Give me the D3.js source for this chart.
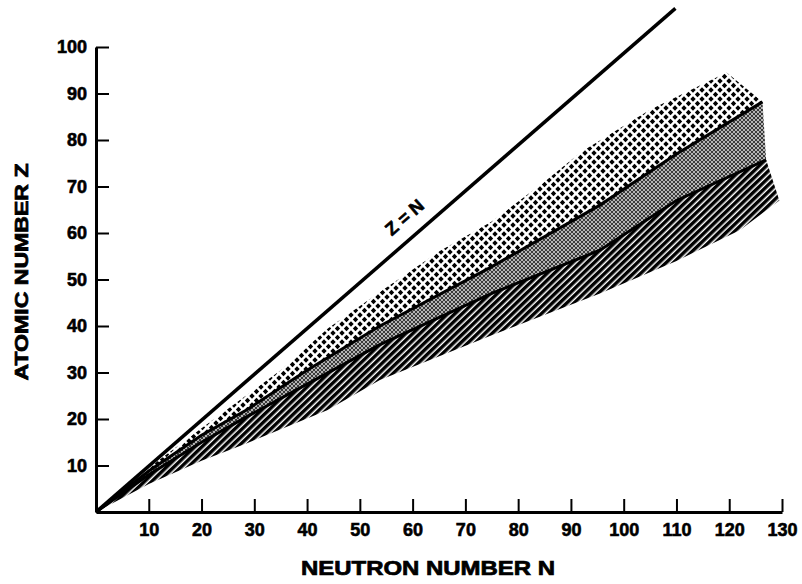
<!DOCTYPE html>
<html>
<head>
<meta charset="utf-8">
<script src="https://cdn.jsdelivr.net/npm/d3@7/dist/d3.min.js"></script>
<style>
  body { margin: 0; background: #fff; }
  svg { display: block; }
  text { font-family: "Liberation Sans", Arial, sans-serif; font-weight: bold; fill: #000; }
</style>
</head>
<body>
<div id="chart"></div>
<script>
// Tick values
const xTicks = [10, 20, 30, 40, 50, 60, 70, 80, 90, 100, 110, 120, 130];
const yTicks = [10, 20, 30, 40, 50, 60, 70, 80, 90, 100];

// Z = N reference line [N, Z], as drawn in the figure
const zEqualsN = [[0, 0], [109.8, 108.3]];

// top edge of the dotted band
const upperEdge = [[0, 0], [10, 9.5], [20, 18], [35, 30.5], [44, 39.5], [54, 47.5], [65, 56],
  [75, 62.5], [85, 71], [92, 77.5], [105, 86.5], [119.5, 94.5]];
// solid line between dotted and grey band
const upperLine = [[0, 0], [10, 8.8], [20, 16.5], [28.6, 22], [40, 30.5], [53.8, 40], [74.6, 52.5],
  [95.5, 66], [110, 77], [126.3, 88.2]];
// solid line between grey and hatched band
const lowerLine = [[0, 0], [10, 8], [20, 15], [28.6, 20.5], [40, 27.5], [53.8, 36], [75, 47],
  [95.5, 56.3], [110, 67], [127, 75.7]];
// bottom edge of the hatched band
const lowerEdge = [[0, 0], [10, 6], [20, 11], [28.6, 14.8], [43.8, 21.9], [53.8, 28.4], [75, 38],
  [95.5, 47], [110, 54], [122, 60.6], [129.5, 67]];

const W = 802, H = 584;

const svg = d3.select("#chart")
  .append("svg")
  .attr("width", W)
  .attr("height", H);

const x = d3.scaleLinear().domain([0, 130]).range([96, 782]);
const y = d3.scaleLinear().domain([0, 100]).range([512, 47]);

// patterns
const defs = svg.append("defs");

const dots = defs.append("pattern")
  .attr("id", "dots")
  .attr("patternUnits", "userSpaceOnUse")
  .attr("width", 9).attr("height", 9);
dots.append("rect").attr("width", 9).attr("height", 9).attr("fill", "#fff");
[[0, 0], [9, 0], [0, 9], [9, 9], [4.5, 4.5]].forEach(p => {
  dots.append("path")
    .attr("d", `M${p[0]},${p[1] - 2.7}L${p[0] + 2.7},${p[1]}L${p[0]},${p[1] + 2.7}L${p[0] - 2.7},${p[1]}Z`)
    .attr("fill", "#000");
});

const grey = defs.append("pattern")
  .attr("id", "grey")
  .attr("patternUnits", "userSpaceOnUse")
  .attr("width", 4).attr("height", 4);
grey.append("rect").attr("width", 4).attr("height", 4).attr("fill", "#b4b4b4");
grey.append("path").attr("d", "M0,0L4,4M4,0L0,4").attr("stroke", "#1a1a1a").attr("stroke-width", 0.8);

const hatch = defs.append("pattern")
  .attr("id", "hatch")
  .attr("patternUnits", "userSpaceOnUse")
  .attr("width", 10).attr("height", 5)
  .attr("patternTransform", "rotate(-44)");
hatch.append("rect").attr("width", 10).attr("height", 5).attr("fill", "#fff");
hatch.append("rect").attr("width", 10).attr("height", 3.5).attr("fill", "#000");

const line = d3.line().x(d => x(d[0])).y(d => y(d[1]));
const closed = d3.line().x(d => x(d[0])).y(d => y(d[1])).curve(d3.curveLinearClosed);

// bands
svg.append("path")
  .attr("d", closed(upperEdge.concat(upperLine.slice().reverse())))
  .attr("fill", "url(#dots)");
svg.append("path")
  .attr("d", closed(upperLine.concat(lowerLine.slice().reverse())))
  .attr("fill", "url(#grey)");
svg.append("path")
  .attr("d", closed(lowerLine.concat(lowerEdge.slice().reverse())))
  .attr("fill", "url(#hatch)");

// solid band lines
[upperLine, lowerLine].forEach(l => {
  svg.append("path")
    .attr("d", line(l))
    .attr("fill", "none")
    .attr("stroke", "#000")
    .attr("stroke-width", 3);
});

// Z = N line
svg.append("path")
  .attr("d", line(zEqualsN))
  .attr("fill", "none")
  .attr("stroke", "#000")
  .attr("stroke-width", 3.5);

const angle = Math.atan2(y(zEqualsN[1][1]) - y(0), x(zEqualsN[1][0]) - x(0)) * 180 / Math.PI;
svg.append("text")
  .attr("transform", `translate(${x(60) - 4},${y(60) - 11}) rotate(${angle})`)
  .attr("text-anchor", "middle")
  .attr("stroke", "#000")
  .attr("stroke-width", 0.6)
  .style("font-size", "18px")
  .text("Z = N");

// axes
const yAxis = svg.append("g")
  .attr("transform", `translate(${x(0)},0)`)
  .call(d3.axisLeft(y).tickValues(yTicks).tickSizeInner(-13).tickSizeOuter(0).tickPadding(9));

const xAxis = svg.append("g")
  .attr("transform", `translate(0,${y(0)})`)
  .call(d3.axisBottom(x).tickValues(xTicks).tickSizeInner(-13).tickSizeOuter(0).tickPadding(11));

[xAxis, yAxis].forEach(g => {
  g.select(".domain").attr("stroke-width", 3);
  g.selectAll(".tick line").attr("stroke-width", 2);
  g.selectAll(".tick text")
    .attr("stroke", "#000")
    .attr("stroke-width", 0.6)
    .style("font-family", "'Liberation Sans', Arial, sans-serif")
    .style("font-weight", "bold")
    .style("font-size", "18px");
});

// axis titles
svg.append("text")
  .attr("x", 428)
  .attr("y", 575)
  .attr("text-anchor", "middle")
  .attr("textLength", 254)
  .attr("lengthAdjust", "spacingAndGlyphs")
  .attr("stroke", "#000")
  .attr("stroke-width", 0.7)
  .style("font-size", "20px")
  .text("NEUTRON NUMBER N");

svg.append("text")
  .attr("transform", "translate(28,272) rotate(-90)")
  .attr("text-anchor", "middle")
  .attr("textLength", 217)
  .attr("lengthAdjust", "spacingAndGlyphs")
  .attr("stroke", "#000")
  .attr("stroke-width", 0.7)
  .style("font-size", "18px")
  .text("ATOMIC NUMBER Z");
</script>
</body>
</html>
